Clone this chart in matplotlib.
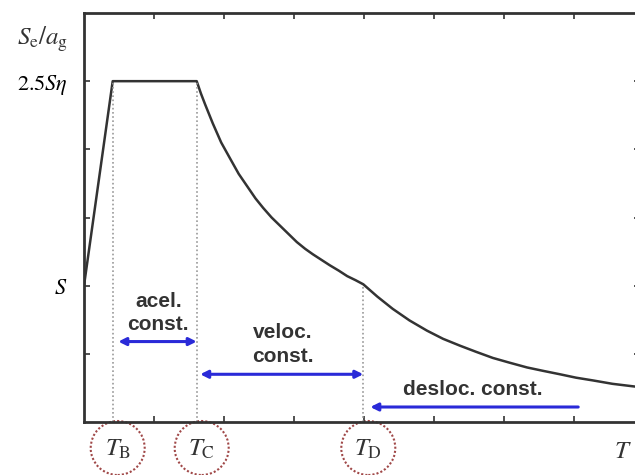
import matplotlib.pyplot as plt
import matplotlib.patches as mpatches
import matplotlib.transforms as mtransforms

plt.rcParams['mathtext.fontset'] = 'stix'

# spectrum (T in tick units, Se/ag with S = 1)
T_vals = [0.0, 0.41, 1.61, 1.67, 1.73, 1.84, 1.96, 2.09, 2.21, 2.33, 2.45, 2.56,
          2.68, 2.80, 2.92, 3.04, 3.16, 3.27, 3.39, 3.51, 3.64, 3.76, 3.88, 3.99,
          4.19, 4.41, 4.65, 4.90, 5.13, 5.37, 5.60, 5.84, 6.08, 6.33, 6.56, 6.80,
          7.03, 7.27, 7.55, 7.87]
Se_vals = [1.0, 2.5, 2.5, 2.41, 2.33, 2.19, 2.05, 1.93, 1.82, 1.73, 1.64, 1.57,
           1.50, 1.44, 1.38, 1.32, 1.27, 1.23, 1.19, 1.15, 1.11, 1.07, 1.04, 1.01,
           0.92, 0.83, 0.745, 0.67, 0.61, 0.56, 0.515, 0.47, 0.435, 0.40, 0.375, 0.35,
           0.325, 0.305, 0.28, 0.26]

# corner periods and their levels on the curve
corner_T = [0.41, 1.61, 3.99]
corner_Se = [2.5, 2.5, 1.0]
corner_labels = [r'$T_\mathrm{B}$', r'$T_\mathrm{C}$', r'$T_\mathrm{D}$']

ytick_vals = [0.5, 1.0, 1.5, 2.0, 2.5]
ytick_labels = ['', r'$S$', '', '', r'$2.5S\eta$']
xtick_vals = [1, 2, 3, 4, 5, 6, 7]

fig = plt.figure(figsize=(6.35, 4.75), dpi=100)
ax = fig.add_axes([84/635, 53/475, 556/635, 409/475])
ax.set_xlim(0, 556/70)
ax.set_ylim(0, 3.0)

ax.plot(T_vals, Se_vals, color='#333333', lw=1.8, solid_joinstyle='round')

for t, s in zip(corner_T, corner_Se):
    ax.plot([t, t], [0, s], color='#999999', lw=1.2, ls=(0, (1, 1.5)))

for sp in ['left', 'top', 'bottom', 'right']:
    ax.spines[sp].set_linewidth(2)
    ax.spines[sp].set_color('#333333')

ax.set_xticks(xtick_vals)
ax.set_xticklabels([])
ax.set_yticks(ytick_vals)
ax.set_yticklabels(ytick_labels, fontsize=16)
ax.tick_params(direction='in', length=4, width=1.2, color='#333333',
               top=True, right=True, pad=12)

# period labels with dotted circles
for t, lab in zip(corner_T, corner_labels):
    tr = fig.dpi_scale_trans + mtransforms.ScaledTranslation(t, 0, ax.transData)
    circ = mpatches.Circle((0.05, -0.26), 0.27, transform=tr, fill=False,
                           ec='#a04848', lw=1.5, ls=(0, (1, 1)), clip_on=False)
    ax.add_patch(circ)
    ax.text(0.05, -0.27, lab, transform=tr, ha='center', va='center',
            fontsize=18, color='#333333')

ax.text(0.97, -0.07, r'$T$', transform=ax.transAxes, ha='center', va='center',
        fontsize=18, color='#333333')
ax.text(-0.075, 0.935, r'$S_\mathrm{e}/a_\mathrm{g}$', transform=ax.transAxes,
        ha='center', va='center', fontsize=18, color='#333333')

# branch arrows
blue = '#2a2ad8'
ax.annotate('', xy=(corner_T[0] + 0.08, 0.59), xytext=(corner_T[1], 0.59),
            arrowprops=dict(arrowstyle='<|-|>', color=blue, lw=2.2,
                            mutation_scale=11, shrinkA=0, shrinkB=0))
ax.annotate('', xy=(corner_T[1] + 0.05, 0.35), xytext=(corner_T[2], 0.35),
            arrowprops=dict(arrowstyle='<|-|>', color=blue, lw=2.2,
                            mutation_scale=11, shrinkA=0, shrinkB=0))
ax.annotate('', xy=(corner_T[2] + 0.1, 0.11), xytext=(7.06, 0.11),
            arrowprops=dict(arrowstyle='-|>', color=blue, lw=2.2,
                            mutation_scale=11, shrinkA=0, shrinkB=0))

txt = dict(fontsize=15, fontweight='bold', color='#333333',
           family='Liberation Sans', ha='center', va='center', linespacing=1.3)
ax.text(1.06, 0.80, 'acel.\nconst.', **txt)
ax.text(2.84, 0.57, 'veloc.\nconst.', **txt)
ax.text(5.55, 0.235, 'desloc. const.', **txt)

fig.savefig('out.png', dpi=100)
